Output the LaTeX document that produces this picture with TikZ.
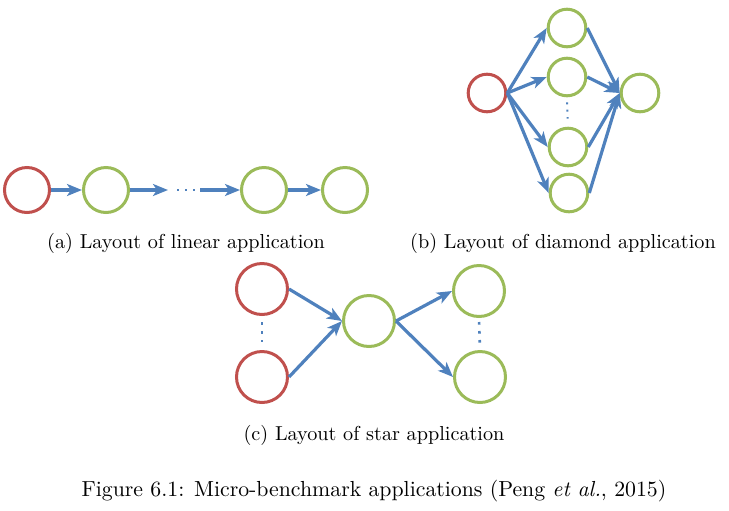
\documentclass[tikz,border=0pt]{standalone}
\usetikzlibrary{positioning, arrows.meta}
\definecolor{appred}{RGB}{192,80,77}
\definecolor{appgreen}{RGB}{155,187,89}
\definecolor{appblue}{RGB}{79,129,189}

\begin{document}
\begin{tikzpicture}[x=0.5pt, y=-0.5pt,
    every node/.style={inner sep=0pt, text opacity=1},
    src/.style={circle, draw=appred, line width=1.5pt},
    task/.style={circle, draw=appgreen, line width=1.5pt},
    flow/.style={-{Stealth[length=7.5pt, width=6pt, inset=2pt]}, line width=1.6pt, draw=appblue},
    more/.style={line width=1.3pt, draw=appblue, dash pattern=on 1.3pt off 3.2pt},
    subcap/.style={font=\fontsize{10.1}{12}\selectfont}]
    \useasboundingbox (0,0) rectangle (729,510);

    % (a) linear
    \node (l0) [src, minimum size=22.5pt] at (27,190) {};
    \node (l1) [task, minimum size=22.5pt] at (106,190) {};
    \node (l2) [task, minimum size=22.5pt] at (264,190) {};
    \node (l3) [task, minimum size=22.5pt] at (345,190) {};
    \coordinate (ldotsL) at (168,190);
    \coordinate (ldotsR) at (200,190);
    \node (capa) [subcap] at (186,243) {(a) Layout of linear application};

    \draw[flow] (l0.east) -- (l1.west);
    \draw[flow] (l1.east) -- (ldotsL);
    \draw[more, dash pattern=on 1pt off 3pt, shorten <=4.5pt, shorten >=1pt] (ldotsL) -- (ldotsR);
    \draw[flow] (ldotsR) -- (l2.west);
    \draw[flow] (l2.east) -- (l3.west);

    % (b) diamond
    \node (d0) [src, minimum size=18.8pt] at (487,93) {};
    \node (d1) [task, minimum size=18.8pt] at (567,28) {};
    \node (d2) [task, minimum size=18.8pt] at (567,77) {};
    \node (d3) [task, minimum size=18.8pt] at (568,147) {};
    \node (d4) [task, minimum size=18.8pt] at (569,193) {};
    \node (dsink) [task, minimum size=18.8pt] at (640,93) {};
    \node (capb) [subcap] at (563,243) {(b) Layout of diamond application};

    \draw[flow] (d0.east) -- (d1.west);
    \draw[flow] (d0.east) -- (d2.west);
    \draw[flow] (d0.east) -- (d3.west);
    \draw[flow] (d0.east) -- (d4.west);
    \draw[flow] (d1.east) -- (dsink.west);
    \draw[flow] (d2.east) -- (dsink.west);
    \draw[flow] (d3.east) -- (dsink.west);
    \draw[flow] (d4.east) -- (dsink.west);
    \draw[more, line width=1pt, dash pattern=on 1pt off 2.7pt, shorten <=2.5pt, shorten >=4pt] (d2.south) -- (d3.north);

    % (c) star
    \node (s1) [src, minimum size=25.5pt] at (262,289) {};
    \node (s2) [src, minimum size=25.5pt] at (262,377) {};
    \node (hub) [task, minimum size=25.5pt] at (369,321) {};
    \node (t1) [task, minimum size=25.5pt] at (479,291) {};
    \node (t2) [task, minimum size=25.5pt] at (480,377) {};
    \node (capc) [subcap] at (374,435) {(c) Layout of star application};

    \draw[flow] (s1.east) -- (hub.west);
    \draw[flow] (s2.east) -- (hub.west);
    \draw[flow] (hub.east) -- (t1.west);
    \draw[flow] (hub.east) -- (t2.west);
    \draw[more, shorten <=3pt, shorten >=4pt] (s1.south) -- (s2.north);
    \draw[more, shorten <=2pt, shorten >=2.5pt] (t1.south) -- (t2.north);

    \node (fig) [font=\fontsize{10.9}{13}\selectfont] at (374,491) {Figure 6.1: Micro-benchmark applications (Peng \textit{et al.}, 2015)};
\end{tikzpicture}
\end{document}
